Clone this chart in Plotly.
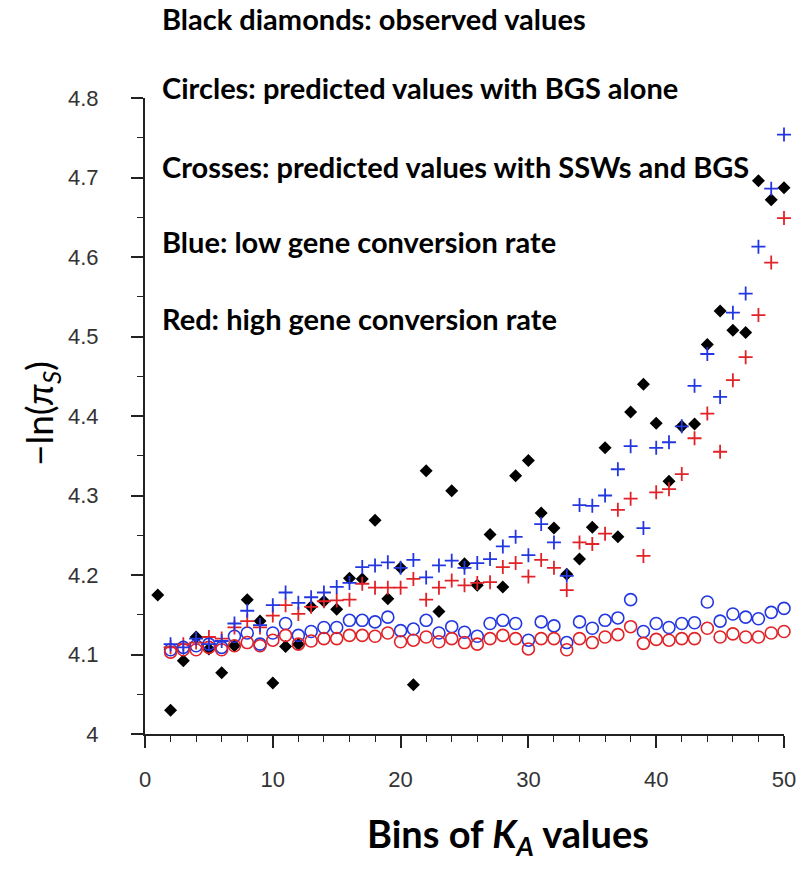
import plotly.graph_objects as go

bins_obs = list(range(1, 51))
bins_pred = list(range(2, 51))

observed = [4.175, 4.030, 4.092, 4.122, 4.107, 4.077, 4.111, 4.169, 4.142, 4.064,
            4.110, 4.113, 4.160, 4.167, 4.157, 4.196, 4.195, 4.269, 4.170, 4.209,
            4.062, 4.331, 4.154, 4.306, 4.214, 4.187, 4.251, 4.185, 4.325, 4.344,
            4.278, 4.259, 4.201, 4.220, 4.260, 4.360, 4.248, 4.405, 4.440, 4.391,
            4.318, 4.387, 4.390, 4.490, 4.532, 4.508, 4.505, 4.696, 4.672, 4.687]

bgs_low = [4.106, 4.109, 4.111, 4.113, 4.109, 4.123, 4.127, 4.113, 4.127, 4.139,
           4.124, 4.129, 4.134, 4.134, 4.143, 4.143, 4.141, 4.147, 4.130, 4.132,
           4.143, 4.127, 4.135, 4.128, 4.123, 4.139, 4.143, 4.139, 4.118, 4.141,
           4.136, 4.115, 4.141, 4.133, 4.143, 4.146, 4.169, 4.129, 4.139, 4.134,
           4.139, 4.140, 4.166, 4.142, 4.151, 4.147, 4.145, 4.153, 4.158]

bgs_high = [4.103, 4.106, 4.106, 4.109, 4.106, 4.111, 4.115, 4.111, 4.118, 4.124,
            4.113, 4.117, 4.120, 4.120, 4.124, 4.124, 4.123, 4.127, 4.116, 4.118,
            4.122, 4.116, 4.120, 4.115, 4.113, 4.120, 4.124, 4.120, 4.107, 4.120,
            4.120, 4.106, 4.120, 4.115, 4.122, 4.125, 4.135, 4.114, 4.119, 4.118,
            4.120, 4.120, 4.133, 4.122, 4.126, 4.122, 4.122, 4.127, 4.129]

ssw_low = [4.113, 4.109, 4.120, 4.113, 4.117, 4.139, 4.155, 4.137, 4.162, 4.178,
           4.165, 4.172, 4.178, 4.185, 4.190, 4.210, 4.212, 4.216, 4.209, 4.219,
           4.197, 4.212, 4.218, 4.209, 4.215, 4.220, 4.236, 4.248, 4.225, 4.264,
           4.241, 4.199, 4.288, 4.287, 4.300, 4.333, 4.362, 4.259, 4.360, 4.367,
           4.387, 4.438, 4.478, 4.424, 4.530, 4.554, 4.613, 4.686, 4.754]

ssw_high = [4.109, 4.113, 4.115, 4.122, 4.120, 4.134, 4.142, 4.134, 4.149, 4.162,
            4.151, 4.160, 4.167, 4.168, 4.169, 4.189, 4.184, 4.184, 4.184, 4.195,
            4.169, 4.184, 4.193, 4.187, 4.190, 4.191, 4.210, 4.215, 4.198, 4.219,
            4.209, 4.181, 4.241, 4.239, 4.252, 4.282, 4.296, 4.224, 4.304, 4.308,
            4.327, 4.372, 4.403, 4.355, 4.445, 4.474, 4.527, 4.593, 4.649]

y_ticks = [4.0, 4.1, 4.2, 4.3, 4.4, 4.5, 4.6, 4.7, 4.8]
y_tick_text = ["4", "4.1", "4.2", "4.3", "4.4", "4.5", "4.6", "4.7", "4.8"]
x_ticks = [0, 10, 20, 30, 40, 50]

legend_lines = [
    "Black diamonds: observed values",
    "Circles: predicted values with BGS alone",
    "Crosses: predicted values with SSWs and BGS",
    "Blue: low gene conversion rate",
    "Red: high gene conversion rate",
]

BLUE = "rgb(35,55,225)"
RED = "rgb(225,35,40)"
AXIS = "#222222"

W, H = 796, 870
ML, MR, MT, MB = 145, 12, 98, 136
PW, PH = W - ML - MR, H - MT - MB


def px2paper(sx, sy):
    return (sx - ML) / PW, (H - MB - sy) / PH


fig = go.Figure()
fig.add_trace(go.Scatter(x=bins_obs, y=observed, mode="markers", cliponaxis=False,
                         marker=dict(symbol="diamond", size=10, color="black")))
fig.add_trace(go.Scatter(x=bins_pred, y=bgs_low, mode="markers", cliponaxis=False,
                         marker=dict(symbol="circle-open", size=12, color=BLUE,
                                     line=dict(color=BLUE, width=1.6))))
fig.add_trace(go.Scatter(x=bins_pred, y=bgs_high, mode="markers", cliponaxis=False,
                         marker=dict(symbol="circle-open", size=12, color=RED,
                                     line=dict(color=RED, width=1.6))))
fig.add_trace(go.Scatter(x=bins_pred, y=ssw_high, mode="markers", cliponaxis=False,
                         marker=dict(symbol="cross-thin", size=10, color=RED,
                                     line=dict(color=RED, width=1.8))))
fig.add_trace(go.Scatter(x=bins_pred, y=ssw_low, mode="markers", cliponaxis=False,
                         marker=dict(symbol="cross-thin", size=10, color=BLUE,
                                     line=dict(color=BLUE, width=1.8))))

annotations = []
line_y = [18, 88, 166, 241, 318]
for txt, sy in zip(legend_lines, line_y):
    xp, yp = px2paper(160, sy)
    annotations.append(dict(text="<b>" + txt + "</b>", x=xp, y=yp, xref="paper", yref="paper",
                            xanchor="left", yanchor="middle", showarrow=False,
                            font=dict(family="Lato", size=29, color="black")))

xp, yp = px2paper(508, 836)
annotations.append(dict(text="<b>Bins of <i>K</i><sub><i>A</i></sub> values</b>", x=xp, y=yp,
                        xref="paper", yref="paper", xanchor="center", yanchor="middle",
                        showarrow=False, font=dict(family="Lato", size=38, color="black")))
xp, yp = px2paper(41, 414)
annotations.append(dict(text="−ln(<i>π</i><sub><i>S</i></sub>)", x=xp, y=yp,
                        xref="paper", yref="paper", xanchor="center", yanchor="middle",
                        textangle=-90, showarrow=False,
                        font=dict(family="Lato", size=37, color="black")))

fig.update_layout(
    width=W, height=H,
    margin=dict(l=ML, r=MR, t=MT, b=MB, autoexpand=False),
    paper_bgcolor="white", plot_bgcolor="white",
    showlegend=False,
    annotations=annotations,
    xaxis=dict(range=[0, 50], tickvals=x_ticks, showgrid=False, zeroline=False,
               showline=True, linecolor=AXIS, linewidth=2, automargin=False,
               ticks="outside", ticklen=12, tickwidth=1.6, tickcolor=AXIS,
               ticklabelstandoff=13, ticklabeloverflow="allow",
               tickfont=dict(family="Liberation Sans", size=22, color="#333333"),
               minor=dict(dtick=2, ticks="outside", ticklen=6, tickwidth=1.4, tickcolor=AXIS)),
    yaxis=dict(range=[4, 4.8], tickvals=y_ticks, ticktext=y_tick_text, showgrid=False,
               zeroline=False, showline=True, linecolor=AXIS, linewidth=2, automargin=False,
               ticks="outside", ticklen=12, tickwidth=1.6, tickcolor=AXIS,
               ticklabelstandoff=28, ticklabeloverflow="allow",
               tickfont=dict(family="Liberation Sans", size=22, color="#333333"),
               minor=dict(dtick=0.05, ticks="outside", ticklen=6, tickwidth=1.4, tickcolor=AXIS)),
)

fig.write_html("out.html", config={"displayModeBar": False},
               post_script="document.body.style.margin='0px';")
